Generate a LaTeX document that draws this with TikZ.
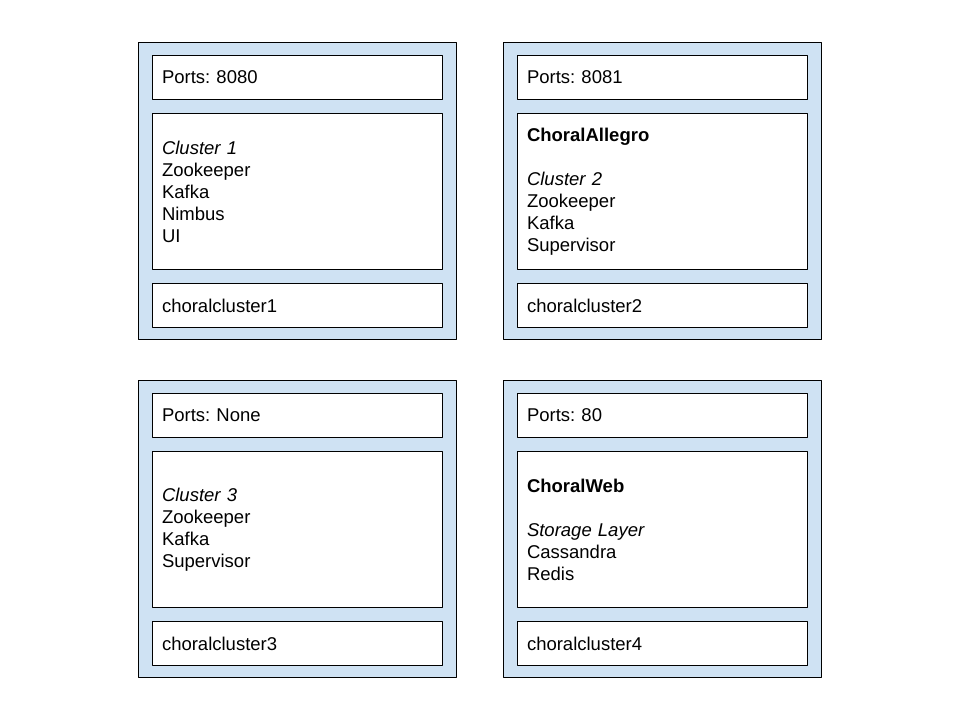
\documentclass[tikz,border=0pt]{standalone}
\usepackage{fontspec}
\setmainfont{Liberation Sans}
\usetikzlibrary{positioning}
\definecolor{hostblue}{HTML}{CFE2F3}
\frenchspacing
\begin{document}
\begin{tikzpicture}[x=1pt, y=-1pt, line join=round, font=\fontsize{18.5}{22}\selectfont,
	host/.style={draw, line width=1pt, fill=hostblue, minimum width=318pt, minimum height=297pt, inner sep=0pt},
	slot/.style={draw, line width=1pt, fill=white, text width=270pt, inner xsep=10pt, inner ysep=0pt, align=left, minimum height=#1},
	slot/.default=44pt, node distance=13pt]
	\useasboundingbox (0,0) rectangle (960,720);
	%Bốn máy chủ
	\foreach \i/\x/\y/\port/\body in {
		1/297/190.5/8080/{\textit{Cluster 1}\\Zookeeper\\Kafka\\Nimbus\\UI},
		2/662/190.5/8081/{\textbf{ChoralAllegro}\\\mbox{}\\\textit{Cluster 2}\\Zookeeper\\Kafka\\Supervisor},
		3/297/528.5/None/{\textit{Cluster 3}\\Zookeeper\\Kafka\\Supervisor},
		4/662/528.5/80/{\textbf{ChoralWeb}\\\mbox{}\\\textit{Storage Layer}\\Cassandra\\Redis}}
	{
		\node[host] (host\i) at (\x,\y) {};
		\node[slot, below=13.5pt of host\i.north] (port\i) {Ports: \port};
		\node[slot=156pt, below=of port\i] (role\i) {\body};
		\node[slot, below=of role\i] (name\i) {choralcluster\i};
	}
\end{tikzpicture}
\end{document}
